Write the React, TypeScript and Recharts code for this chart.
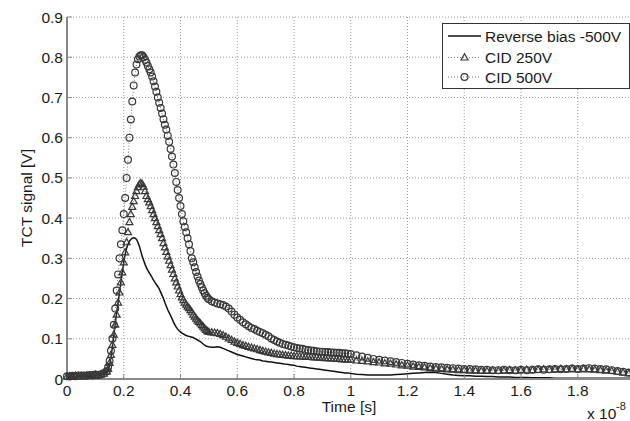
import { LineChart, Line, XAxis, YAxis, CartesianGrid } from "recharts";

// time axis, in units of 1e-8 s
const time = [
  // 0 .. 0.14
  0, 0.01, 0.02, 0.03, 0.04, 0.05, 0.06, 0.07, 0.08, 0.09,
  0.1, 0.11, 0.12, 0.13, 0.14,
  // 0.145 .. 0.495
  0.145, 0.15, 0.155, 0.16, 0.165, 0.17, 0.175, 0.18, 0.185, 0.19,
  0.195, 0.2, 0.205, 0.21, 0.215, 0.22, 0.225, 0.23, 0.235, 0.24,
  0.245, 0.25, 0.255, 0.26, 0.265, 0.27, 0.275, 0.28, 0.285, 0.29,
  0.295, 0.3, 0.305, 0.31, 0.315, 0.32, 0.325, 0.33, 0.335, 0.34,
  0.345, 0.35, 0.355, 0.36, 0.365, 0.37, 0.375, 0.38, 0.385, 0.39,
  0.395, 0.4, 0.405, 0.41, 0.415, 0.42, 0.425, 0.43, 0.435, 0.44,
  0.445, 0.45, 0.455, 0.46, 0.465, 0.47, 0.475, 0.48, 0.485, 0.49,
  0.495,
  // 0.5 .. 0.99
  0.5, 0.51, 0.52, 0.53, 0.54, 0.55, 0.56, 0.57, 0.58, 0.59,
  0.6, 0.61, 0.62, 0.63, 0.64, 0.65, 0.66, 0.67, 0.68, 0.69,
  0.7, 0.71, 0.72, 0.73, 0.74, 0.75, 0.76, 0.77, 0.78, 0.79,
  0.8, 0.81, 0.82, 0.83, 0.84, 0.85, 0.86, 0.87, 0.88, 0.89,
  0.9, 0.91, 0.92, 0.93, 0.94, 0.95, 0.96, 0.97, 0.98, 0.99,
  // 1.0 .. 2.0
  1.0, 1.02, 1.04, 1.06, 1.08, 1.1, 1.12, 1.14, 1.16, 1.18,
  1.2, 1.22, 1.24, 1.26, 1.28, 1.3, 1.32, 1.34, 1.36, 1.38,
  1.4, 1.42, 1.44, 1.46, 1.48, 1.5, 1.52, 1.54, 1.56, 1.58,
  1.6, 1.62, 1.64, 1.66, 1.68, 1.7, 1.72, 1.74, 1.76, 1.78,
  1.8, 1.82, 1.84, 1.86, 1.88, 1.9, 1.92, 1.94, 1.96, 1.98,
  2.0,
];

const reverseBias = [
  0.004, 0.005, 0.005, 0.004, 0.006, 0.005, 0.006, 0.007, 0.006, 0.007,
  0.008, 0.008, 0.01, 0.012, 0.016,
  0.022, 0.033, 0.055, 0.08, 0.108, 0.138, 0.165, 0.19, 0.215, 0.24,
  0.265, 0.29, 0.31, 0.325, 0.335, 0.342, 0.347, 0.35, 0.351, 0.35,
  0.347, 0.34, 0.33, 0.318, 0.305, 0.295, 0.285, 0.277, 0.27, 0.264,
  0.258, 0.252, 0.246, 0.24, 0.235, 0.23, 0.224, 0.216, 0.208, 0.2,
  0.19, 0.181, 0.172, 0.165, 0.158, 0.15, 0.142, 0.135, 0.129, 0.124,
  0.12, 0.117, 0.114, 0.112, 0.11, 0.108, 0.107, 0.106, 0.105, 0.104,
  0.103, 0.101, 0.099, 0.097, 0.095, 0.093, 0.09, 0.087, 0.084, 0.082,
  0.081,
  0.08, 0.079, 0.079, 0.08, 0.079, 0.076, 0.073, 0.07, 0.067, 0.064,
  0.061, 0.059, 0.057, 0.055, 0.053, 0.051, 0.049, 0.048, 0.047, 0.045,
  0.044, 0.043, 0.042, 0.041, 0.04, 0.039, 0.038, 0.037, 0.036, 0.035,
  0.034, 0.032, 0.031, 0.03, 0.029, 0.028, 0.027, 0.026, 0.025, 0.024,
  0.023, 0.022, 0.021, 0.02, 0.019, 0.018, 0.017, 0.016, 0.015, 0.015,
  0.014, 0.012, 0.011, 0.01, 0.01, 0.01, 0.01, 0.01, 0.011, 0.012,
  0.013, 0.014, 0.015, 0.016, 0.017, 0.016, 0.014, 0.012, 0.01, 0.009,
  0.008, 0.008, 0.007, 0.007, 0.006, 0.006, 0.005, 0.005, 0.005, 0.004,
  0.004, 0.004, 0.003, 0.003, 0.003, 0.003, 0.002, 0.002, 0.002, 0.002,
  0.002, 0.002, 0.002, 0.002, 0.002, 0.002, 0.002, 0.002, 0.002, 0.002,
  0.002,
];

const cid250 = [
  0.006, 0.007, 0.006, 0.008, 0.007, 0.008, 0.007, 0.009, 0.008, 0.009,
  0.01, 0.009, 0.011, 0.013, 0.018,
  0.025, 0.04, 0.06, 0.085, 0.11, 0.135, 0.16, 0.19, 0.215, 0.24,
  0.265, 0.29, 0.315, 0.34, 0.365, 0.39, 0.41, 0.428, 0.442, 0.455,
  0.467, 0.477, 0.484, 0.487, 0.485, 0.478, 0.467, 0.455, 0.447, 0.439,
  0.43, 0.42, 0.41, 0.4, 0.39, 0.38, 0.37, 0.36, 0.35, 0.338,
  0.327, 0.316, 0.305, 0.294, 0.283, 0.272, 0.261, 0.25, 0.24, 0.23,
  0.22, 0.211, 0.203, 0.196, 0.19, 0.185, 0.18, 0.176, 0.171, 0.166,
  0.16, 0.155, 0.15, 0.146, 0.142, 0.138, 0.134, 0.13, 0.126, 0.122,
  0.119,
  0.117, 0.116, 0.115, 0.114, 0.112, 0.109, 0.105, 0.101, 0.097, 0.093,
  0.09, 0.087, 0.084, 0.082, 0.08, 0.078, 0.076, 0.074, 0.072, 0.07,
  0.068, 0.066, 0.065, 0.063, 0.062, 0.061, 0.06, 0.059, 0.058, 0.058,
  0.057, 0.057, 0.056, 0.056, 0.055, 0.055, 0.055, 0.054, 0.054, 0.053,
  0.053, 0.052, 0.052, 0.051, 0.051, 0.05, 0.05, 0.049, 0.049, 0.048,
  0.048, 0.046, 0.045, 0.044, 0.042, 0.041, 0.039, 0.038, 0.036, 0.034,
  0.033, 0.031, 0.03, 0.029, 0.027, 0.026, 0.025, 0.024, 0.023, 0.022,
  0.022, 0.021, 0.021, 0.02, 0.02, 0.021, 0.02, 0.021, 0.022, 0.021,
  0.022, 0.023, 0.022, 0.023, 0.024, 0.023, 0.024, 0.025, 0.024, 0.025,
  0.024, 0.025, 0.024, 0.023, 0.022, 0.021, 0.02, 0.018, 0.016, 0.014,
  0.012,
];

const cid500 = [
  0.007, 0.006, 0.008, 0.007, 0.009, 0.008, 0.009, 0.008, 0.01, 0.009,
  0.011, 0.01, 0.012, 0.015, 0.02,
  0.03, 0.045, 0.07, 0.1, 0.135, 0.175, 0.22, 0.26, 0.3, 0.335,
  0.37, 0.41, 0.45, 0.5, 0.545, 0.6, 0.645, 0.69, 0.73, 0.762,
  0.782, 0.795, 0.802, 0.805, 0.805, 0.8, 0.794, 0.787, 0.778, 0.77,
  0.762, 0.752, 0.74, 0.727, 0.714, 0.7, 0.687, 0.674, 0.66, 0.646,
  0.632, 0.62, 0.605, 0.59, 0.572, 0.553, 0.533, 0.512, 0.49, 0.47,
  0.45, 0.43, 0.41, 0.392, 0.378, 0.365, 0.35, 0.335, 0.318, 0.3,
  0.29, 0.278, 0.266, 0.255, 0.245, 0.236, 0.228, 0.22, 0.213, 0.207,
  0.202,
  0.198, 0.193, 0.19, 0.188, 0.186, 0.184, 0.18, 0.175, 0.168, 0.16,
  0.153, 0.147, 0.141, 0.136, 0.131, 0.127, 0.124, 0.12, 0.117, 0.114,
  0.11, 0.106, 0.101, 0.097, 0.093, 0.09, 0.087, 0.085, 0.083, 0.081,
  0.079, 0.077, 0.076, 0.075, 0.073, 0.072, 0.071, 0.07, 0.069, 0.068,
  0.068, 0.067, 0.067, 0.066, 0.066, 0.065, 0.065, 0.064, 0.064, 0.063,
  0.062, 0.059, 0.056, 0.053, 0.05, 0.048, 0.046, 0.044, 0.042, 0.04,
  0.038, 0.036, 0.034, 0.033, 0.031, 0.03, 0.029, 0.028, 0.027, 0.026,
  0.025, 0.025, 0.024, 0.023, 0.023, 0.022, 0.022, 0.023, 0.022, 0.022,
  0.023, 0.022, 0.023, 0.024, 0.023, 0.024, 0.025, 0.024, 0.025, 0.026,
  0.025, 0.026, 0.027, 0.026, 0.025, 0.024, 0.022, 0.02, 0.018, 0.016,
  0.014,
];

const xTicks = [0, 0.2, 0.4, 0.6, 0.8, 1, 1.2, 1.4, 1.6, 1.8];
const yTicks = [0, 0.1, 0.2, 0.3, 0.4, 0.5, 0.6, 0.7, 0.8, 0.9];

const seriesNames = ["Reverse bias -500V", "CID 250V", "CID 500V"];

const rows = time.map((t, i) => ({
  t,
  rb: reverseBias[i],
  c250: cid250[i],
  c500: cid500[i],
}));

const FONT = "'Liberation Sans', Arial, sans-serif";
const MARK = "#383838";

const Circle = (props: any) => {
  const { cx, cy, index } = props;
  if (cx == null || cy == null) return <g key={`c${index}`} />;
  return <circle key={`c${index}`} cx={cx} cy={cy} r={3.4} fill="none" stroke={MARK} strokeWidth={1.2} />;
};

const Triangle = (props: any) => {
  const { cx, cy, index } = props;
  if (cx == null || cy == null) return <g key={`t${index}`} />;
  const p = `${cx},${cy - 3.7} ${cx - 3.5},${cy + 2.5} ${cx + 3.5},${cy + 2.5}`;
  return <polygon key={`t${index}`} points={p} fill="none" stroke={MARK} strokeWidth={1.2} />;
};

const tickStyle = { fill: "#1a1a1a", fontSize: 15.5, fontFamily: FONT };

function Overlay() {
  const textProps = { fontFamily: FONT, fontSize: 15.5, fill: "#1a1a1a" };
  return (
    <svg
      width={630}
      height={421}
      style={{ position: "absolute", left: 0, top: 0, pointerEvents: "none" }}
    >
      {/* axis titles */}
      <text x={349} y={412} textAnchor="middle" {...textProps}>
        Time [s]
      </text>
      <text
        x={32}
        y={198}
        textAnchor="middle"
        transform="rotate(-90, 32, 198)"
        {...textProps}
      >
        TCT signal [V]
      </text>
      <text x={587} y={419} {...textProps}>
        x 10
      </text>
      <text x={616} y={410} {...textProps} fontSize={11}>
        -8
      </text>

      {/* legend */}
      <rect x={442.5} y={23.5} width={187} height={65} fill="#fff" stroke="#333" strokeWidth={1} />
      <line x1={448} x2={481} y1={36} y2={36} stroke="#111" strokeWidth={1.5} />
      <text x={485} y={41.5} {...textProps}>
        {seriesNames[0]}
      </text>
      <line x1={448} x2={481} y1={57.5} y2={57.5} stroke="#777" strokeDasharray="1 2" />
      <Triangle cx={464.5} cy={57.5} index={0} />
      <text x={485} y={63} {...textProps}>
        {seriesNames[1]}
      </text>
      <line x1={448} x2={481} y1={77} y2={77} stroke="#777" strokeDasharray="1 2" />
      <Circle cx={464.5} cy={77} index={0} />
      <text x={485} y={82.5} {...textProps}>
        {seriesNames[2]}
      </text>
    </svg>
  );
}

export default function App() {
  return (
    <div
      style={{
        position: "absolute",
        left: 0,
        top: 0,
        width: 630,
        height: 421,
        overflow: "hidden",
        background: "#fff",
      }}
    >
      <LineChart
        width={640}
        height={421}
        data={rows}
        margin={{ top: 17, right: 5.5, bottom: 12, left: 27 }}
      >
        <CartesianGrid
          stroke="#9a9a9a"
          strokeDasharray="1 2"
          horizontalValues={yTicks}
          verticalValues={xTicks}
        />
        <XAxis
          xAxisId="top"
          orientation="top"
          type="number"
          dataKey="t"
          domain={[0, 2]}
          ticks={xTicks}
          height={0}
          tickSize={-5}
          tickFormatter={() => ""}
          axisLine={{ stroke: "#888", strokeWidth: 1 }}
          tickLine={{ stroke: "#888" }}
        />
        <XAxis
          type="number"
          dataKey="t"
          domain={[0, 2]}
          ticks={xTicks}
          height={30}
          tickSize={-5}
          tickMargin={11}
          tick={tickStyle}
          axisLine={{ stroke: "#888", strokeWidth: 2 }}
          tickLine={{ stroke: "#888" }}
          interval={0}
        />
        <YAxis
          type="number"
          domain={[0, 0.9]}
          ticks={yTicks}
          width={40}
          tickSize={-5}
          tickMargin={9}
          tick={tickStyle}
          axisLine={{ stroke: "#888", strokeWidth: 2 }}
          tickLine={{ stroke: "#888" }}
          interval={0}
        />
        <Line
          type="linear"
          dataKey="rb"
          name={seriesNames[0]}
          stroke="#111"
          strokeWidth={1.5}
          dot={false}
          activeDot={false}
          isAnimationActive={false}
        />
        <Line
          type="linear"
          dataKey="c250"
          name={seriesNames[1]}
          stroke="#777"
          strokeWidth={1}
          strokeDasharray="1 2"
          dot={Triangle}
          activeDot={false}
          isAnimationActive={false}
        />
        <Line
          type="linear"
          dataKey="c500"
          name={seriesNames[2]}
          stroke="#777"
          strokeWidth={1}
          strokeDasharray="1 2"
          dot={Circle}
          activeDot={false}
          isAnimationActive={false}
        />
      </LineChart>
      <Overlay />
    </div>
  );
}
